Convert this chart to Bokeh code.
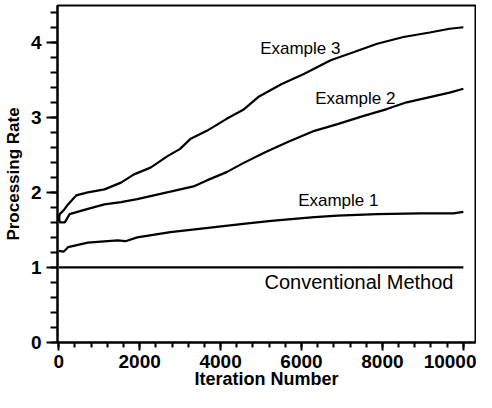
from bokeh.plotting import figure
from bokeh.models import Range1d, Label, FixedTicker
from bokeh.embed import file_html
from bokeh.resources import INLINE

# ---- data ----
ex3_x = [0, 25, 120, 230, 430, 720, 1130, 1540, 1860, 2270, 2680, 3000, 3250, 3660, 4150, 4560,
         4930, 5500, 6070, 6720, 7300, 7870, 8520, 9170, 9660, 10000]
ex3_y = [1.62, 1.71, 1.76, 1.84, 1.96, 2.00, 2.04, 2.13, 2.24, 2.33, 2.48, 2.58, 2.71, 2.82, 2.98, 3.10,
         3.27, 3.44, 3.58, 3.76, 3.87, 3.98, 4.07, 4.13, 4.18, 4.20]

ex2_x = [0, 25, 150, 270, 720, 1130, 1540, 1940, 2350, 2760, 3330, 3660, 4150, 4560,
         5090, 5660, 6320, 6890, 7540, 8110, 8600, 9170, 9660, 10000]
ex2_y = [1.70, 1.60, 1.60, 1.71, 1.78, 1.84, 1.87, 1.91, 1.96, 2.01, 2.08, 2.16, 2.27, 2.39,
         2.53, 2.67, 2.82, 2.91, 3.02, 3.11, 3.20, 3.27, 3.33, 3.38]

ex1_x = [0, 120, 230, 720, 1450, 1650, 1940, 2760, 3580, 4560, 5250, 6320, 6890, 7870, 8930,
         9750, 10000]
ex1_y = [1.22, 1.21, 1.27, 1.33, 1.36, 1.35, 1.40, 1.47, 1.52, 1.58, 1.62, 1.67, 1.69, 1.71, 1.72,
         1.72, 1.74]

conv_x = [0, 10000]
conv_y = [1.0, 1.0]

x_ticks = [0, 2000, 4000, 6000, 8000, 10000]
y_ticks = [0, 1, 2, 3, 4]

series_labels = ["Example 3", "Example 2", "Example 1", "Conventional Method"]

# ---- figure ----
p = figure(width=476, height=392, output_backend="svg", toolbar_location=None,
           x_range=Range1d(-30, 10300), y_range=Range1d(0, 4.49),
           min_border_left=51, min_border_right=1, min_border_top=5, min_border_bottom=50)

p.background_fill_color = "white"
p.border_fill_color = "white"
p.outline_line_color = "black"
p.outline_line_width = 2
p.xgrid.visible = False
p.ygrid.visible = False

for xs, ys in [(ex3_x, ex3_y), (ex2_x, ex2_y), (ex1_x, ex1_y), (conv_x, conv_y)]:
    p.line(xs, ys, line_color="black", line_width=2.2)

FONT = "Liberation Sans"

p.xaxis.ticker = FixedTicker(ticks=x_ticks, minor_ticks=list(range(0, 10401, 400)))
p.yaxis.ticker = FixedTicker(ticks=y_ticks, minor_ticks=[i / 5 for i in range(0, 23)])

for ax in (p.xaxis[0], p.yaxis[0]):
    ax.axis_line_color = "black"
    ax.axis_line_width = 2
    ax.major_tick_line_color = "black"
    ax.major_tick_line_width = 2
    ax.minor_tick_line_color = "black"
    ax.minor_tick_line_width = 2
    ax.major_tick_in = 0
    ax.minor_tick_in = 0
    ax.major_label_text_font = FONT
    ax.major_label_text_font_style = "bold"
    ax.major_label_text_color = "black"
    ax.major_label_text_font_size = "19px"
    ax.axis_label_text_font = FONT
    ax.axis_label_text_font_style = "bold"
    ax.axis_label_text_color = "black"
    ax.axis_label_text_font_size = "17px"

p.xaxis.major_tick_out = 8
p.xaxis.minor_tick_out = 5
p.xaxis.major_label_standoff = 4
p.xaxis.axis_label_standoff = -2
p.xaxis.axis_label = "Iteration Number"
p.xaxis.axis_label_text_font_size = "18px"

p.yaxis.major_tick_out = 11
p.yaxis.minor_tick_out = 7
p.yaxis.major_label_standoff = 5
p.yaxis.axis_label_standoff = 5
p.yaxis.axis_label = "Processing Rate"

label_pos = [(5970, 3.92, 17), (7330, 3.25, 17), (6910, 1.89, 17), (7420, 0.81, 20)]
for text, (lx, ly, fs) in zip(series_labels, label_pos):
    p.add_layout(Label(x=lx, y=ly, text=text, text_align="center", text_baseline="middle",
                       text_font=FONT, text_font_size=f"{fs}px", text_color="black"))

open("out.html", "w").write(file_html(p, INLINE))
